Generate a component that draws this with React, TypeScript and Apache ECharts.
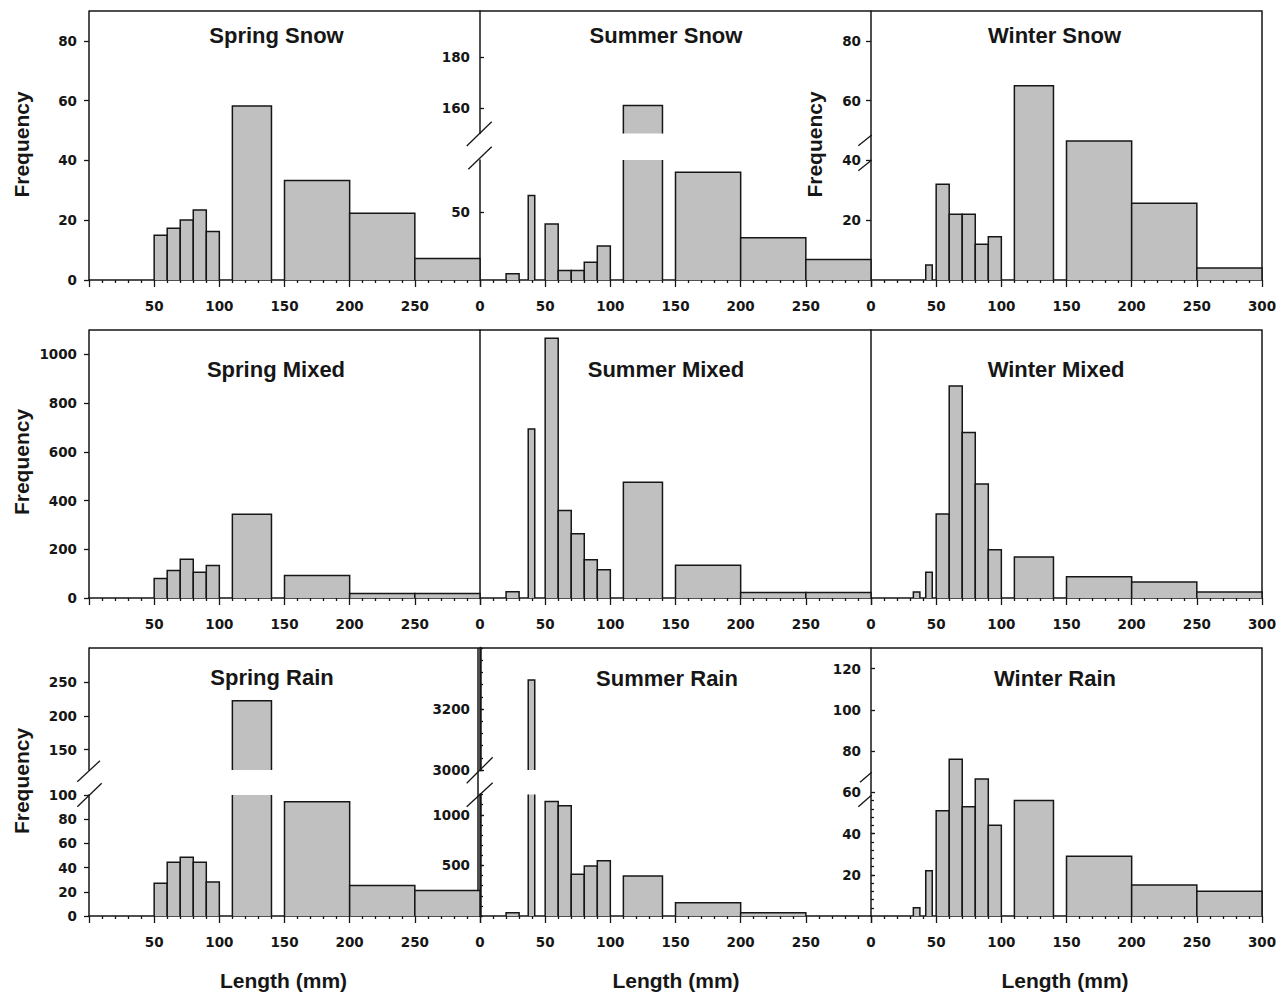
import React, { useEffect, useRef } from "react";
import * as echarts from "echarts";

// ---- Bin edges (length, mm) ----
const springBins: [number, number][] = [
  [50, 60], [60, 70], [70, 80], [80, 90], [90, 100],
  [110, 140], [150, 200], [200, 250], [250, 300],
];
const summerBins: [number, number][] = [
  [20, 30], [37, 42], [50, 60], [60, 70], [70, 80], [80, 90], [90, 100],
  [110, 140], [150, 200], [200, 250], [250, 300],
];
const winterBins: [number, number][] = [
  [32.5, 37.5], [42, 47], [50, 60], [60, 70], [70, 80], [80, 90], [90, 100],
  [110, 140], [150, 200], [200, 250], [250, 300],
];

// ---- Frequencies per bin ----
const springSnow = [15, 17.3, 20.1, 23.4, 16.2, 58.2, 33.3, 22.3, 7.2];
const summerSnow = [4.5, 62, 41, 7, 7, 13, 25, 161, 79, 31, 15];
const winterSnow = [0, 5, 32, 22, 22, 12, 14.5, 65, 46.5, 25.7, 4];

const springMixed = [80, 113, 159, 106, 133, 344, 92, 18, 18];
const summerMixed = [26, 694, 1066, 359, 264, 157, 116, 475, 134, 23, 23];
const winterMixed = [25, 106, 345, 870, 679, 468, 198, 168, 87, 66, 25];

const springRain = [27, 44.4, 48.5, 44.4, 28, 222, 94.5, 25.2, 21.1];
const summerRain = [33, 3295, 1132, 1089, 413, 495, 545, 396, 132, 33, 0];
const winterRain = [4, 22, 51, 76, 53, 66.5, 44, 56, 29, 15, 12];

// ---- Axis tick labels ----
const xRange = { min: 0, max: 300, interval: 50 };
const snowLeftTicks = [0, 20, 40, 60, 80];
const summerSnowUpperTicks = [160, 180];
const summerSnowLowerTicks = [50];
const winterSnowTicks = [20, 40, 60, 80];
const mixedTicks = [0, 200, 400, 600, 800, 1000];
const springRainUpperTicks = [150, 200, 250];
const springRainLowerTicks = [0, 20, 40, 60, 80, 100];
const summerRainUpperTicks = [3000, 3200];
const summerRainLowerTicks = [500, 1000];
const winterRainTicks = [20, 40, 60, 80, 100, 120];

const steps = (from: number, to: number, step: number) => {
  const out: number[] = [];
  for (let v = from; v <= to + 1e-9; v += step) out.push(v);
  return out;
};

// ---- Layout ----
const INK = "#161616";
const FILL = "#c0c0c0";
const TICK_FONT = "'DejaVu Sans', sans-serif";
const TICK_SIZE = 13.5;
const TITLE_FONT = "'Liberation Sans', Arial, sans-serif";

const COL_LEFT = [89, 480, 871];
const COL_WIDTH = 391;
const ROW_TOP = [11, 330, 648];
const ROW_BASE = [280, 598, 916];

type Seg = {
  top: number;
  bottom: number;
  min: number;
  max: number;
  labels: number[];
  tickSide: "in" | "out" | "none";
  minor?: number[];
  axisWidth?: number;
  margin?: number;
};

type Panel = {
  title: string;
  row: number;
  col: number;
  bins: [number, number][];
  values: number[];
  segs: Seg[];
  tx: number;
  ty: number;
};

const full = (row: number, min: number, max: number, labels: number[], tickSide: Seg["tickSide"], extra: Partial<Seg> = {}): Seg => ({
  top: ROW_TOP[row], bottom: ROW_BASE[row], min, max, labels, tickSide, ...extra,
});

const panels: Panel[] = [
  { title: "Spring Snow", row: 0, col: 0, bins: springBins, values: springSnow, tx: 276.5, ty: 35,
    segs: [full(0, 0, 90, snowLeftTicks, "out", { margin: 12 })] },
  { title: "Summer Snow", row: 0, col: 1, bins: summerBins, values: summerSnow, tx: 666, ty: 35.5,
    segs: [
      { top: 11, bottom: 133.5, min: 150, max: 198, labels: summerSnowUpperTicks, tickSide: "in" },
      { top: 160, bottom: 280, min: 0, max: 88, labels: summerSnowLowerTicks, tickSide: "in" },
    ] },
  { title: "Winter Snow", row: 0, col: 2, bins: winterBins, values: winterSnow, tx: 1054.5, ty: 35,
    segs: [full(0, 0, 90, winterSnowTicks, "out")] },

  { title: "Spring Mixed", row: 1, col: 0, bins: springBins, values: springMixed, tx: 276, ty: 369,
    segs: [full(1, 0, 1100, mixedTicks, "out", { margin: 12 })] },
  { title: "Summer Mixed", row: 1, col: 1, bins: summerBins, values: summerMixed, tx: 666, ty: 369,
    segs: [full(1, 0, 1100, [], "none")] },
  { title: "Winter Mixed", row: 1, col: 2, bins: winterBins, values: winterMixed, tx: 1056, ty: 369,
    segs: [full(1, 0, 1100, [], "none")] },

  { title: "Spring Rain", row: 2, col: 0, bins: springBins, values: springRain, tx: 272, ty: 677,
    segs: [
      { top: 648, bottom: 770, min: 120, max: 300, labels: springRainUpperTicks, tickSide: "out", margin: 12 },
      { top: 795, bottom: 916, min: 0, max: 100, labels: springRainLowerTicks, tickSide: "out", margin: 12 },
    ] },
  { title: "Summer Rain", row: 2, col: 1, bins: summerBins, values: summerRain, tx: 667, ty: 678,
    segs: [
      { top: 648, bottom: 770, min: 3000, max: 3400, labels: summerRainUpperTicks, tickSide: "in",
        minor: steps(3000, 3400, 40), axisWidth: 2.5 },
      { top: 794.5, bottom: 916, min: 0, max: 1200, labels: summerRainLowerTicks, tickSide: "in",
        minor: steps(0, 1200, 100), axisWidth: 2.5 },
    ] },
  { title: "Winter Rain", row: 2, col: 2, bins: winterBins, values: winterRain, tx: 1055, ty: 678,
    segs: [full(2, 0, 130, winterRainTicks, "in", { minor: steps(4, 56, 4) })] },
];

// Histogram bar drawn between bin edges, clamped to the segment's value range
const barRenderer = (segMin: number, segMax: number) => (_params: any, api: any) => {
  const x0 = api.value(0);
  const x1 = api.value(1);
  const v = api.value(2);
  if (!(v > segMin)) return null;
  const capped = v > segMax;
  const topVal = capped ? segMax : v;
  const tl = api.coord([x0, topVal]);
  const br = api.coord([x1, segMin]);
  const left = tl[0], top = tl[1], right = br[0], bottom = br[1];
  const lineStyle = { stroke: INK, lineWidth: 1.5, fill: "none" };
  const children: any[] = [
    { type: "rect", shape: { x: left, y: top, width: right - left, height: bottom - top }, style: { fill: FILL } },
  ];
  if (capped) {
    children.push({ type: "line", shape: { x1: left, y1: top, x2: left, y2: bottom }, style: lineStyle });
    children.push({ type: "line", shape: { x1: right, y1: top, x2: right, y2: bottom }, style: lineStyle });
  } else {
    children.push({
      type: "polyline",
      shape: { points: [[left, bottom], [left, top], [right, top], [right, bottom]] },
      style: lineStyle,
    });
  }
  return { type: "group", children };
};

const tickLine = { color: INK, width: 1.3 };

function buildOption() {
  const grid: any[] = [];
  const xAxis: any[] = [];
  const yAxis: any[] = [];
  const series: any[] = [];

  panels.forEach((p) => {
    p.segs.forEach((s) => {
      const gi = grid.length;
      grid.push({
        left: COL_LEFT[p.col], width: COL_WIDTH, top: s.top, height: s.bottom - s.top,
        show: false, containLabel: false, outerBoundsMode: "none",
      });
      const isBase = s.bottom === ROW_BASE[p.row];
      const col = p.col;
      xAxis.push({
        type: "value", gridIndex: gi, min: xRange.min, max: xRange.max, interval: xRange.interval,
        show: isBase,
        axisLine: { show: true, onZero: false, lineStyle: { color: INK, width: 1.5 } },
        axisTick: { show: true, length: 7, lineStyle: tickLine },
        minorTick: { show: true, splitNumber: 5, length: 3, lineStyle: tickLine },
        splitLine: { show: false },
        minorSplitLine: { show: false },
        axisLabel: {
          margin: 19, color: INK, fontFamily: TICK_FONT, fontWeight: "bold", fontSize: TICK_SIZE,
          formatter: (v: number) => ((col === 0 && v === 0) || (col < 2 && v === 300) ? "" : String(v)),
        },
      });
      const yi = yAxis.length;
      const hasLabels = s.labels.length > 0;
      yAxis.push({
        type: "value", gridIndex: gi, min: s.min, max: s.max, position: "left",
        axisLine: { show: true, onZero: false, lineStyle: { color: INK, width: s.axisWidth ?? 1.5 } },
        axisTick: {
          show: s.tickSide !== "none", inside: s.tickSide === "in", length: s.tickSide === "in" ? 4 : 5,
          customValues: hasLabels ? s.labels : undefined, lineStyle: tickLine,
        },
        axisLabel: {
          show: hasLabels, customValues: hasLabels ? s.labels : undefined, margin: s.margin ?? 10,
          color: INK, fontFamily: TICK_FONT, fontWeight: "bold", fontSize: TICK_SIZE,
          formatter: (v: number) => String(v),
        },
        splitLine: { show: false },
      });
      if (s.minor) {
        yAxis.push({
          type: "value", gridIndex: gi, min: s.min, max: s.max, position: "left", offset: 0,
          axisLine: { show: false },
          axisLabel: { show: false },
          splitLine: { show: false },
          axisTick: { show: true, inside: true, length: 3, customValues: s.minor, lineStyle: tickLine },
        });
      }
      series.push({
        type: "custom",
        xAxisIndex: gi,
        yAxisIndex: yi,
        renderItem: barRenderer(s.min, s.max),
        data: p.bins.map((b, i) => [b[0], b[1], p.values[i]]),
        encode: { x: [0, 1], y: 2 },
        clip: false,
        silent: true,
        z: 2,
      });
    });
  });

  const frame = { stroke: INK, lineWidth: 1.5, fill: "none" };
  const slash = { stroke: INK, lineWidth: 1.3 };
  const lines: [number, number, number, number][] = [
    // summer snow break
    [466.7, 146, 491.7, 121.7], [468.3, 169.3, 491.7, 146.7],
    // winter snow marks
    [858.3, 145.7, 871.7, 135], [858.3, 170.7, 871.7, 160],
    // spring rain break
    [77.3, 781.7, 100, 760.7], [77.3, 806.7, 101.7, 783.3],
    // summer rain break
    [466.7, 783.3, 492.7, 757.3], [466.7, 806.7, 492.7, 782.7],
    // winter rain marks
    [860, 782.3, 871.7, 772.3], [858.3, 806.7, 871.7, 795],
  ];

  const textStyle = (text: string, size: number) => ({
    text, fill: INK, fontFamily: TITLE_FONT, fontWeight: "bold", fontSize: size,
    align: "center", verticalAlign: "middle", textAlign: "center", textVerticalAlign: "middle",
  });

  const right = COL_LEFT[2] + COL_WIDTH;
  const graphic: any[] = [
    ...ROW_TOP.map((t, r) => ({
      type: "polyline", z: 0, silent: true,
      shape: { points: [[COL_LEFT[0], t], [right, t], [right, ROW_BASE[r]]] },
      style: frame,
    })),
    { type: "line", z: 0, silent: true, shape: { x1: 478, y1: ROW_TOP[2], x2: 478, y2: ROW_BASE[2] }, style: frame },
    ...lines.map(([x1, y1, x2, y2]) => ({ type: "line", z: 10, silent: true, shape: { x1, y1, x2, y2 }, style: slash })),
    ...panels.map((p) => ({ type: "text", z: 10, silent: true, x: p.tx, y: p.ty, style: textStyle(p.title, 22) })),
    ...[[21, 144.5], [814, 144.5], [21, 462], [21, 781]].map(([x, y]) => ({
      type: "text", z: 10, silent: true, x, y, rotation: Math.PI / 2, style: textStyle("Frequency", 21),
    })),
    ...[283.5, 676, 1065].map((x) => ({
      type: "text", z: 10, silent: true, x, y: 980, style: textStyle("Length (mm)", 21),
    })),
  ];

  return {
    animation: false,
    backgroundColor: "#ffffff",
    grid,
    xAxis,
    yAxis,
    series,
    graphic: { elements: graphic },
  };
}

export default function App() {
  const ref = useRef<HTMLDivElement>(null);
  useEffect(() => {
    if (!ref.current) return;
    const chart = echarts.init(ref.current, undefined, { renderer: "svg" });
    chart.setOption(buildOption() as any);
    return () => chart.dispose();
  }, []);
  return (
    <div
      ref={ref}
      style={{ position: "absolute", left: 0, top: 0, width: 1286, height: 993, background: "#fff" }}
    />
  );
}
